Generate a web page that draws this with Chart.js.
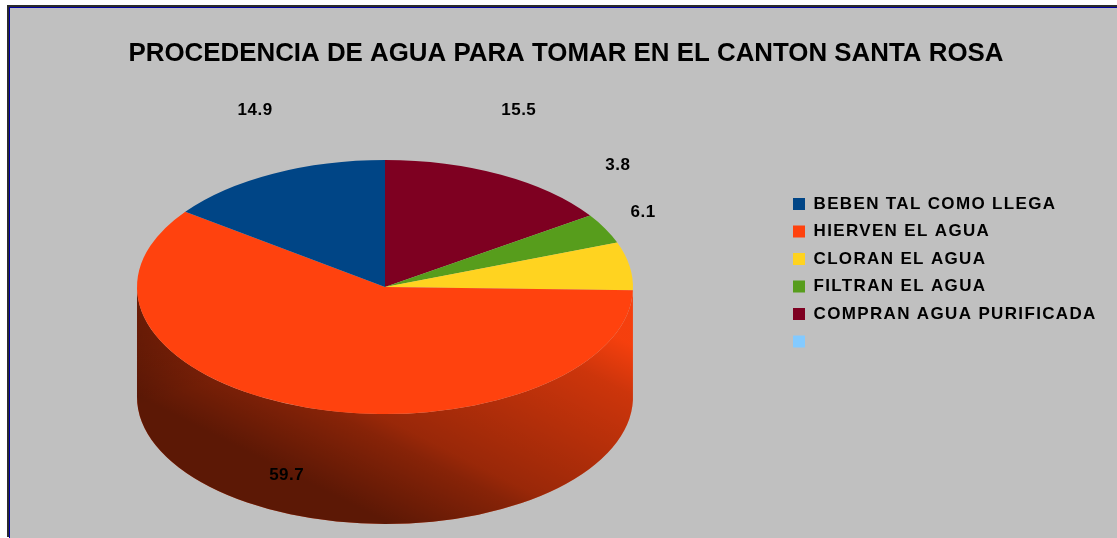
<!DOCTYPE html>
<html>
<head>
<meta charset="utf-8">
<title>Procedencia de agua para tomar</title>
<script src="https://cdn.jsdelivr.net/npm/chart.js@4"></script>
<style>
    html, body { margin: 0; height: 100%; background: #fff; overflow: hidden; }
    .frame { position: absolute; left: 7px; top: 5px; width: 1200px; height: 530px; border-top: 2px solid #2b2b2b; border-left: 2px solid #2b2b2b; }
    .plot { width: 100%; height: 100%; border-top: 1px solid #0000a0; border-left: 1px solid #0000a0; background: #c0c0c0; }
    canvas { position: absolute; left: 10px; top: 8px; }
</style>
</head>
<body>
<div class="frame"><div class="plot"></div></div>
<canvas id="chart" width="1112" height="529"></canvas>
<script>
// Orden de la leyenda (la ultima categoria esta vacia en el original)
const categories = ["BEBEN TAL COMO LLEGA", "HIERVEN EL AGUA", "CLORAN EL AGUA", "FILTRAN EL AGUA", "COMPRAN AGUA PURIFICADA", ""];
const values = [14.9, 59.7, 6.1, 3.8, 15.5, 0];
const colors = ["#004586", "#ff420e", "#ffd320", "#579d1c", "#7e0021", "#83caff"];

// Geometria del pastel en perspectiva
const PIE = { cx: 375, cy: 279, rx: 248, ry: 127, depth: 110 };

// Chart.js solo gira en sentido horario, el original va al reves
const clockwise = (list) => [...list].reverse();

const layoutPlugin = {
    id: "layoutPlugin",
    afterLayout(chart) {
        const area = chart.chartArea;
        area.left = PIE.cx - PIE.rx;
        area.right = PIE.cx + PIE.rx;
        area.top = PIE.cy - PIE.rx;
        area.bottom = PIE.cy + PIE.rx;
        area.width = area.height = PIE.rx * 2;

        const legend = chart.legend;
        legend.left = 772.5;
        legend.top = 177;
        legend.width = 339;
        legend.height = 190;
        legend.right = legend.left + legend.width;
        legend.bottom = legend.top + legend.height;

        // La leyenda original va con las letras mas separadas
        if (!legend.spaced) {
            const draw = legend.draw;
            legend.draw = function (...args) {
                chart.ctx.save();
                chart.ctx.letterSpacing = "1.35px";
                draw.apply(this, args);
                chart.ctx.restore();
            };
            legend.spaced = true;
        }
    }
};

const pie3dPlugin = {
    id: "pie3dPlugin",
    beforeDatasetsDraw(chart) {
        const { ctx } = chart;
        const arcs = chart.getDatasetMeta(0).data;

        // Pared lateral, solo la mitad frontal de cada arco
        arcs.forEach((arc) => {
            const from = Math.max(arc.startAngle, 0);
            const to = Math.min(arc.endAngle, Math.PI);
            if (to <= from) return;

            const wall = () => {
                ctx.beginPath();
                ctx.ellipse(arc.x, arc.y, PIE.rx, PIE.ry, 0, from, to);
                ctx.ellipse(arc.x, arc.y + PIE.depth, PIE.rx, PIE.ry, 0, to, from, true);
                ctx.closePath();
            };

            wall();
            ctx.fillStyle = arc.options.backgroundColor;
            ctx.fill();

            // Sombra diagonal, mas clara arriba a la derecha
            const shade = ctx.createLinearGradient(arc.x, arc.y + 234, arc.x + 121, arc.y - 6);
            shade.addColorStop(0, "rgba(0,0,0,0.64)");
            shade.addColorStop(0.27, "rgba(0,0,0,0.47)");
            shade.addColorStop(0.34, "rgba(0,0,0,0.4)");
            shade.addColorStop(0.83, "rgba(0,0,0,0.2)");
            shade.addColorStop(1, "rgba(0,0,0,0.04)");
            wall();
            ctx.fillStyle = shade;
            ctx.fill();

            // Refuerzo en la parte alta del lado izquierdo
            const side = ctx.createLinearGradient(arc.x - PIE.rx, arc.y, arc.x - PIE.rx + 33, arc.y + 110);
            side.addColorStop(0, "rgba(0,0,0,0.3)");
            side.addColorStop(1, "rgba(0,0,0,0)");
            wall();
            ctx.fillStyle = side;
            ctx.fill();
        });

        // La cara superior se aplasta en elipse
        ctx.save();
        ctx.translate(0, PIE.cy);
        ctx.scale(1, PIE.ry / PIE.rx);
        ctx.translate(0, -PIE.cy);
    },
    afterDatasetsDraw(chart) {
        const { ctx } = chart;
        ctx.restore();

        const arcs = chart.getDatasetMeta(0).data;
        const shown = clockwise(values);
        // Ajuste a mano de las etiquetas, 3.8 y 6.1 se pisarian
        const nudge = { 1: [-1, 0], 2: [-23, -30], 3: [-26, -42], 4: [-5, -1], 5: [0, 2] };

        ctx.save();
        ctx.font = "bold 17px 'Liberation Sans'";
        ctx.letterSpacing = "0.5px";
        ctx.fillStyle = "#000";
        ctx.textAlign = "center";
        ctx.textBaseline = "middle";
        arcs.forEach((arc, i) => {
            if (!shown[i]) return;
            const mid = (arc.startAngle + arc.endAngle) / 2;
            const [dx, dy] = nudge[i] || [0, 0];
            ctx.fillText(shown[i].toFixed(1), arc.x + 288 * Math.cos(mid) + dx, arc.y + 200 * Math.sin(mid) + dy);
        });
        ctx.restore();
    }
};

new Chart(document.getElementById("chart"), {
    type: "pie",
    data: {
        labels: clockwise(categories),
        datasets: [{
            data: clockwise(values),
            backgroundColor: clockwise(colors),
            borderWidth: 0,
            radius: PIE.rx,
            clip: false
        }]
    },
    options: {
        responsive: false,
        animation: false,
        plugins: {
            title: {
                display: true,
                text: "PROCEDENCIA DE AGUA PARA TOMAR EN EL CANTON SANTA ROSA",
                color: "#000",
                font: { family: "'Liberation Sans'", size: 25.88, weight: "bold" },
                padding: { top: 30, bottom: 0 }
            },
            legend: {
                position: "right",
                align: "start",
                reverse: true,
                labels: {
                    color: "#000",
                    font: { family: "'Liberation Sans'", size: 17, weight: "bold" },
                    boxWidth: 12,
                    boxHeight: 12,
                    padding: 10.5
                }
            },
            tooltip: { enabled: false }
        }
    },
    plugins: [layoutPlugin, pie3dPlugin]
});
</script>
</body>
</html>
